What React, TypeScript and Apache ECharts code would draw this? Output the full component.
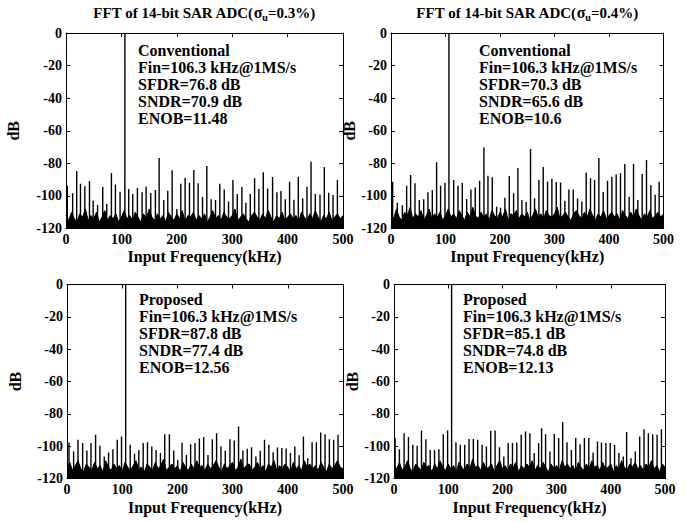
import React, { useEffect, useRef } from "react";
import * as echarts from "echarts";

const FONT = "Liberation Serif";

const FREQ_MIN = 0;
const FREQ_MAX = 500;
const FREQ_STEP = 100;
const DB_MIN = -120;
const DB_MAX = 0;
const DB_STEP = 20;

const FIN_KHZ = 106.3;
const FIN_DB = 0;

const SIGMAS = ["0.3%", "0.4%"];

const TEXT_1 = ["Conventional", "Fin=106.3 kHz@1MS/s", "SFDR=76.8 dB", "SNDR=70.9 dB", "ENOB=11.48"];
const TEXT_2 = ["Conventional", "Fin=106.3 kHz@1MS/s", "SFDR=70.3 dB", "SNDR=65.6 dB", "ENOB=10.6"];
const TEXT_3 = ["Proposed", "Fin=106.3 kHz@1MS/s", "SFDR=87.8 dB", "SNDR=77.4 dB", "ENOB=12.56"];
const TEXT_4 = ["Proposed", "Fin=106.3 kHz@1MS/s", "SFDR=85.1 dB", "SNDR=74.8 dB", "ENOB=12.13"];

// noise floor, one value every 5 kHz (0..500 kHz)
const FLOOR_STEP_KHZ = 5;
const FLOOR_1 = [
  -112, -115, -110, -114, -116, -111, -113, -108, -115, -112,
  -114, -110, -116, -113, -109, -115, -112, -114, -111, -116,
  -113, -109, -114, -112, -115, -110, -113, -116, -111, -114,
  -108, -113, -115, -111, -114, -112, -116, -110, -113, -115,
  -111, -114, -109, -116, -112, -113, -110, -115, -112, -114,
  -111, -116, -113, -109, -114, -112, -115, -110, -113, -114,
  -112, -108, -115, -113, -111, -114, -116, -112, -110, -113,
  -115, -111, -114, -109, -113, -116, -112, -114, -110, -115,
  -113, -111, -114, -112, -116, -110, -113, -115, -111, -114,
  -109, -113, -116, -112, -114, -110, -115, -113, -111, -114, -112,
];
const FLOOR_2 = [
  -111, -114, -108, -113, -115, -110, -112, -107, -114, -111,
  -113, -109, -115, -112, -108, -114, -111, -113, -110, -115,
  -112, -108, -113, -111, -114, -109, -112, -115, -110, -113,
  -107, -112, -114, -110, -113, -111, -115, -109, -112, -114,
  -110, -113, -108, -115, -111, -112, -109, -114, -111, -113,
  -110, -115, -112, -108, -113, -111, -114, -109, -112, -113,
  -111, -107, -114, -112, -110, -113, -115, -111, -109, -112,
  -114, -110, -113, -108, -112, -115, -111, -113, -109, -114,
  -112, -110, -113, -111, -115, -109, -112, -114, -110, -113,
  -108, -112, -115, -111, -113, -109, -114, -112, -110, -113, -111,
];
const FLOOR_3 = [
  -113, -110, -115, -112, -109, -114, -116, -111, -113, -115,
  -110, -114, -112, -116, -109, -113, -115, -111, -114, -112,
  -116, -110, -113, -115, -112, -109, -114, -113, -116, -111,
  -113, -115, -110, -114, -112, -108, -115, -113, -111, -114,
  -112, -116, -110, -113, -115, -111, -114, -109, -113, -112,
  -115, -111, -114, -112, -109, -113, -116, -111, -114, -112,
  -110, -115, -113, -108, -114, -112, -111, -115, -113, -110,
  -114, -112, -116, -111, -113, -109, -115, -112, -114, -111,
  -113, -116, -110, -114, -112, -115, -109, -113, -111, -114,
  -112, -115, -110, -113, -116, -111, -114, -112, -109, -113, -114,
];
const FLOOR_4 = [
  -112, -114, -110, -115, -113, -109, -114, -116, -111, -113,
  -115, -110, -113, -112, -116, -111, -114, -109, -113, -115,
  -111, -114, -112, -116, -110, -113, -115, -111, -114, -108,
  -113, -112, -115, -110, -114, -113, -111, -116, -112, -109,
  -114, -112, -115, -111, -113, -110, -116, -112, -114, -111,
  -113, -109, -115, -112, -114, -110, -113, -116, -111, -114,
  -112, -115, -109, -113, -111, -114, -112, -116, -110, -113,
  -115, -111, -114, -109, -113, -112, -115, -110, -114, -113,
  -111, -116, -112, -114, -109, -113, -115, -111, -113, -110,
  -114, -112, -115, -111, -113, -109, -114, -112, -116, -111, -113,
];

// spurs: [frequency kHz, dB]
const SPURS_1 = [
  [2.4, -93.7], [12, -98.4], [19.3, -84.7], [26.1, -92.5], [34, -94], [42.4, -90.9], [49, -103],
  [57, -105.6], [66.3, -94.5], [73.5, -105], [82, -86], [89.2, -93], [97.6, -97.4],
  [113.2, -95.8], [120.5, -98.9], [128.9, -95.2], [137.3, -97.8], [144.6, -94.3], [153, -98.2],
  [161.4, -96.4], [168.1, -76.8], [176.5, -102.5], [183.7, -96.8], [191.6, -84.3], [200, -108],
  [207.2, -92.5], [215, -88.8], [222.9, -91.9], [230.7, -84.1], [238.5, -92.3], [246.4, -100.7],
  [254.2, -81.6], [262, -102], [269.9, -102.5], [277.7, -92.5], [285.6, -96], [293.4, -103.4],
  [301.3, -90.2], [309.1, -98.9], [317.5, -94.5], [324.7, -104.2], [332.6, -98.9], [340.4, -89.2],
  [348.2, -95.6], [356.1, -85.4], [363.9, -95.4], [372.9, -88.4], [380.7, -97.8], [388, -97],
  [395.8, -102.1], [403.6, -91.3], [411.5, -102.3], [419.3, -88.2], [427.2, -101.5], [435, -94.3],
  [442.3, -79], [450, -98.9], [458.5, -99.1], [466.3, -82.3], [474.2, -98], [482, -99.5], [489.9, -90.2],
];
const SPURS_2 = [
  [3, -91.3], [11.6, -104.2], [20.8, -105.8], [28.7, -93.7], [36, -87.2], [44, -92.3], [52, -102.5],
  [60, -102.1], [67.8, -97.8], [75.8, -96.4], [83.7, -79.4], [91, -93.7], [99, -91.9],
  [115, -90.2], [122.9, -93.7], [130.8, -92.1], [138.8, -101.9], [146.7, -96], [154.6, -94.8],
  [162.6, -90.7], [170.5, -70.3], [177.9, -87.6], [185.8, -88.6], [193.8, -106.6], [201, -107.3],
  [209, -101.1], [217, -87.8], [225, -98.4], [232.9, -82.9], [240.2, -102.5], [248, -103.8],
  [256, -71.2], [263.4, -101.5], [271.4, -90.2], [279.3, -82.3], [287.3, -91.1], [295.2, -89.4],
  [303.2, -91.5], [311.1, -91.7], [319, -103], [326.4, -96], [334.4, -96], [342.3, -101.6],
  [350.2, -103.4], [358.2, -85.7], [366.1, -89.2], [373.5, -90.2], [381.4, -76.7], [389.4, -97.6],
  [397.3, -90.7], [405.3, -88.2], [413.2, -86.8], [421.1, -86.1], [429, -80.4], [437, -100.5],
  [445, -80.4], [452.9, -102.5], [460.9, -86.6], [468.8, -78], [476.8, -93.5], [484.7, -99.3], [492, -91.3],
];
const SPURS_3 = [
  [3.6, -97.7], [12, -103.3], [19.9, -96], [28.3, -98.1], [36, -102.7], [43.4, -98.1], [51.8, -93],
  [59.6, -99.8], [67.5, -106.4], [75.3, -103.9], [83.1, -101.9], [91, -96], [98.8, -94],
  [114.5, -99.2], [122.3, -104.7], [130.1, -102.3], [138, -98.1], [145.8, -97.5], [153.6, -100.2],
  [161.4, -102.3], [169.3, -104.3], [177.1, -92.6], [185.5, -92.6], [193.4, -102.7], [200.6, -108.5],
  [208.4, -97.9], [216.3, -105.4], [224, -98.8], [231.9, -98.1], [239.8, -95.3], [247.6, -94.4],
  [255.4, -105.4], [263.3, -95.7], [271, -92], [278.9, -100.2], [286.7, -102.9], [295.2, -95.7],
  [303, -96.5], [310.8, -87.8], [318.7, -102.7], [326.5, -101.6], [334.3, -100.6], [342.2, -106.4],
  [350, -102.9], [357.8, -96], [365.7, -99.2], [373.5, -103.7], [381.3, -100.8], [389.2, -101.2],
  [397, -101.4], [404.8, -104.3], [412.7, -100.2], [420.5, -105.6], [428.3, -94], [436.1, -107.4],
  [444, -97.5], [451.8, -97.5], [459.6, -91.5], [467.5, -92.6], [475.3, -95.7], [483.1, -96], [491, -93],
];
const SPURS_4 = [
  [2, -95], [10, -101.9], [18.6, -92], [26.7, -94.4], [34.7, -99.2], [42.7, -99.8], [50.7, -90.3],
  [58.8, -95.7], [66.8, -102.3], [74.8, -102.3], [82.8, -101.9], [90.9, -92.6], [98.9, -90.3],
  [114.3, -97.5], [122.3, -99.2], [130.4, -99.2], [138.4, -95.5], [146.4, -95.5], [154.4, -96],
  [162.5, -99.2], [170.5, -100.2], [178.5, -90.5], [186.5, -90.3], [194.6, -100.6], [202.6, -106.4],
  [210.6, -98.1], [218.6, -98.1], [226.6, -97.7], [234.7, -93], [242.7, -90.9], [250.7, -92],
  [258.7, -104.3], [266.8, -98.1], [272.3, -88.9], [279.7, -92.6], [287.7, -103.3], [295.7, -92.4],
  [303.8, -95], [311.2, -85.1], [319.2, -97.5], [327.3, -102.3], [335.3, -95], [343.3, -98.8],
  [351.3, -95], [359.4, -95], [367.4, -103.9], [375.4, -97.1], [382.8, -97.7], [390.9, -98.1],
  [398.9, -98.1], [406.9, -99.2], [414.9, -104.3], [423, -106.4], [429.2, -91.3], [437.2, -107.4],
  [445.2, -103.3], [453.3, -94], [461.3, -89.5], [469.3, -92], [477.3, -92.6], [485.4, -93], [493.4, -89.5],
];

const PANELS = [
  { floor: FLOOR_1, spurs: SPURS_1, text: TEXT_1, grid: { left: 66, top: 33, width: 277, height: 195.5 }, nameGap: 45, textPos: [138, 41.5] },
  { floor: FLOOR_2, spurs: SPURS_2, text: TEXT_2, grid: { left: 391, top: 33, width: 272.5, height: 195.5 }, nameGap: 32, textPos: [479, 41.5] },
  { floor: FLOOR_3, spurs: SPURS_3, text: TEXT_3, grid: { left: 67, top: 284.5, width: 276, height: 194 }, nameGap: 44, textPos: [139, 291] },
  { floor: FLOOR_4, spurs: SPURS_4, text: TEXT_4, grid: { left: 394, top: 284.5, width: 271, height: 194 }, nameGap: 34, textPos: [463, 291] },
];

const labelStyle = { color: "#000", fontFamily: FONT, fontWeight: "bold" as const, fontSize: 14 };
const nameStyle = { color: "#000", fontFamily: FONT, fontWeight: "bold" as const, fontSize: 16 };
const lineBlack = { color: "#000", width: 1 };

function buildOption() {
  const grid: any[] = [];
  const xAxis: any[] = [];
  const yAxis: any[] = [];
  const series: any[] = [];
  const graphic: any[] = [];

  PANELS.forEach((p, i) => {
    grid.push({ ...p.grid, containLabel: false });
    const common = {
      gridIndex: i,
      type: "value",
      splitLine: { show: false },
      axisLine: { show: true, onZero: false, lineStyle: lineBlack },
      axisTick: { show: true, inside: true, length: 4, lineStyle: lineBlack },
    };
    xAxis.push({
      ...common,
      position: "bottom",
      min: FREQ_MIN,
      max: FREQ_MAX,
      interval: FREQ_STEP,
      axisLabel: { ...labelStyle, margin: 4 },
      name: "Input Frequency(kHz)",
      nameLocation: "middle",
      nameGap: i < 2 ? 20 : 21,
      nameTextStyle: nameStyle,
    });
    xAxis.push({
      ...common,
      position: "top",
      min: FREQ_MIN,
      max: FREQ_MAX,
      interval: FREQ_STEP,
      axisLabel: { show: false },
    });
    yAxis.push({
      ...common,
      position: "left",
      min: DB_MIN,
      max: DB_MAX,
      interval: DB_STEP,
      axisLabel: { ...labelStyle, margin: 4 },
      name: "dB",
      nameLocation: "middle",
      nameGap: p.nameGap,
      nameTextStyle: nameStyle,
    });
    yAxis.push({
      ...common,
      position: "right",
      min: DB_MIN,
      max: DB_MAX,
      interval: DB_STEP,
      axisLabel: { show: false },
    });

    const floorData = p.floor.map((v, k) => [k * FLOOR_STEP_KHZ, v]);
    const spikeData: any[] = [];
    [...p.spurs, [FIN_KHZ, FIN_DB]].forEach(([f, v]) => {
      spikeData.push([f, DB_MIN], [f, v], [f, "-"]);
    });
    series.push({
      type: "line",
      xAxisIndex: i * 2,
      yAxisIndex: i * 2,
      data: floorData,
      symbol: "none",
      silent: true,
      lineStyle: { color: "#000", width: 1 },
      areaStyle: { color: "#000", opacity: 1, origin: "start" },
    });
    series.push({
      type: "line",
      xAxisIndex: i * 2,
      yAxisIndex: i * 2,
      data: spikeData,
      symbol: "none",
      silent: true,
      connectNulls: false,
      lineStyle: { color: "#000", width: 1.4 },
    });

    graphic.push({
      type: "text",
      x: p.textPos[0],
      y: p.textPos[1],
      silent: true,
      style: {
        text: p.text.join("\n"),
        fill: "#000",
        fontFamily: FONT,
        fontWeight: "bold",
        fontSize: 16,
        lineHeight: 17,
        align: "left",
        verticalAlign: "top",
      },
    });
  });

  const titleX = [204, 527];
  SIGMAS.forEach((s, j) => {
    graphic.push({
      type: "text",
      x: titleX[j],
      y: 3,
      silent: true,
      style: {
        text: `{a|FFT of 14-bit SAR ADC(}{s|σ}{u|u}{a|=${s})}`,
        align: "center",
        verticalAlign: "top",
        fill: "#000",
        rich: {
          a: { fontFamily: FONT, fontWeight: "bold", fontSize: 15, fill: "#000", lineHeight: 17 },
          s: { fontFamily: FONT, fontWeight: "bold", fontSize: 16, fill: "#000", lineHeight: 17 },
          u: { fontFamily: FONT, fontWeight: "bold", fontSize: 10, fill: "#000", padding: [9, 0, 0, 0] },
        },
      },
    });
  });

  return {
    animation: false,
    backgroundColor: "#fff",
    grid,
    xAxis,
    yAxis,
    series,
    graphic,
  };
}

export default function App() {
  const ref = useRef<HTMLDivElement>(null);
  useEffect(() => {
    if (!ref.current) return;
    const chart = echarts.init(ref.current, undefined, { renderer: "svg" });
    chart.setOption(buildOption() as any);
    return () => chart.dispose();
  }, []);
  return (
    <div
      ref={ref}
      style={{ position: "absolute", left: 0, top: 0, width: 697, height: 522, background: "#fff" }}
    />
  );
}
